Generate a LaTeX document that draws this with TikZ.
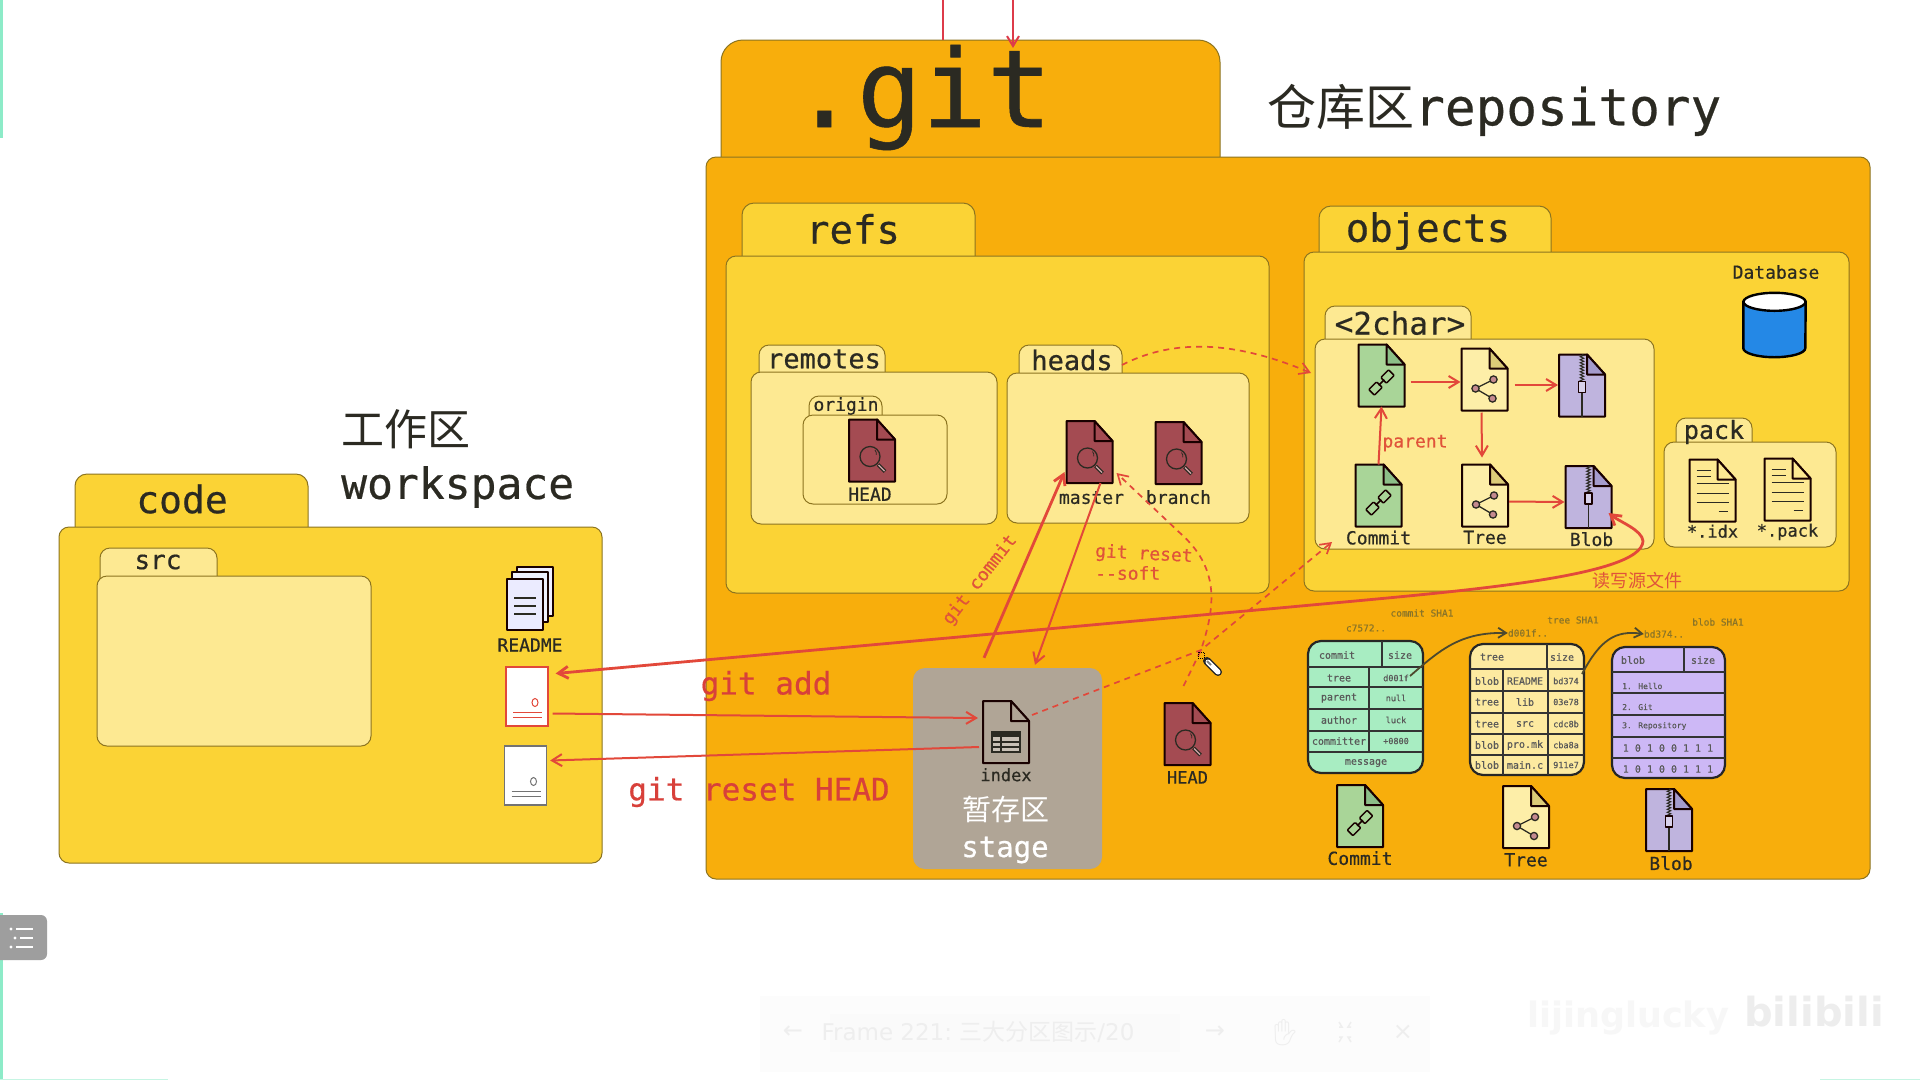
\documentclass[tikz,border=0pt]{standalone}
\usepackage{xcolor}
\usepackage{fontspec}
\setmainfont[RawFeature={embolden=0.5}]{DejaVu Sans Mono}
\newfontfamily\cjk{Noto Sans CJK SC}
\newfontfamily\uisans{DejaVu Sans}
\newfontfamily\emojifont{Noto Emoji}
\usetikzlibrary{arrows.meta, positioning, shapes.geometric, decorations.pathmorphing}

\definecolor{repoorange}{HTML}{F8AE0C}
\definecolor{folderyellow}{HTML}{FBD335}
\definecolor{folderlight}{HTML}{FDE992}
\definecolor{folderline}{HTML}{8C7420}
\definecolor{stagegray}{HTML}{B0A596}
\definecolor{arrowred}{HTML}{E2483A}
\definecolor{labelred}{HTML}{E0533A}
\definecolor{cmdred}{HTML}{D8403A}
\definecolor{topred}{HTML}{DD3B4A}
\definecolor{inkdark}{HTML}{2B2A22}
\definecolor{commitgreen}{HTML}{A9D598}
\definecolor{commitfold}{HTML}{8CBF88}
\definecolor{treecream}{HTML}{FDEEA8}
\definecolor{treefold}{HTML}{DCCB78}
\definecolor{blobpurple}{HTML}{BFB4DE}
\definecolor{blobfold}{HTML}{A59BCC}
\definecolor{headred}{HTML}{A44B52}
\definecolor{tablegreen}{HTML}{A8EDC2}
\definecolor{tablecream}{HTML}{FDEAA0}
\definecolor{tablepurple}{HTML}{CDB8F6}
\definecolor{shaink}{HTML}{8A7428}
\definecolor{mintedge}{HTML}{8DEBC8}
\definecolor{faintui}{HTML}{EEEEEE}
\definecolor{dbblue}{HTML}{2488E6}

\newcommand{\px}[1]{\fontsize{#1}{#1}\selectfont}

% node from its two corners, in pixels of the picture
\newcommand{\panel}[6]{%
    \node[#6, minimum width={#4-#2}, minimum height={#5-#3}] (#1) at ({(#2+#4)/2},{(#3+#5)/2}) {};
}
% name, x, y, body fill, fold fill, glyph
\newcommand{\fileicon}[6]{%
    \node[filenode] (#1) at (#2,#3) {};
    \draw[iconline, fill=#4] (#1.north west) -- ([shift={(28,0)}]#1.north west) -- ([shift={(0,20)}]#1.north east) -- (#1.south east) -- (#1.south west) -- cycle;
    \draw[iconline, fill=#5] ([shift={(28,0)}]#1.north west) -- ([shift={(28,20)}]#1.north west) -- ([shift={(0,20)}]#1.north east) -- cycle;
    \pic at (#1.center) {#6};
}
% name, x, y, line colour
\newcommand{\sourcepage}[4]{%
    \node[sourcenode, draw=#4] (#1) at (#2,#3) {};
    \draw[#4, line width=1pt] ([shift={(8,6)}]#1.center) circle (3 and 4);
    \draw[#4, line width=1.4pt] ([shift={(-14,16)}]#1.center) -- ([shift={(15,16)}]#1.center);
    \draw[#4, line width=1.4pt] ([shift={(-14,21)}]#1.center) -- ([shift={(15,21)}]#1.center);
}

\tikzset{
    commitmark/.pic={
        \begin{scope}[shift={(0,7)}, rotate=45]
            \draw[iconline, rounded corners=1pt, line width=1.5pt] (-14,-4) rectangle (-3,4);
            \draw[iconline, rounded corners=1pt, line width=1.5pt] (3,-4) rectangle (14,4);
            \draw[iconline, line width=1.5pt] (-4,0) -- (4,0);
        \end{scope}
    },
    treemark/.pic={
        \draw[inkdark, line width=1.3pt] (9,0) -- (-9,9) -- (8,19);
        \draw[inkdark, line width=1.3pt, fill=headred!65] (9,0) circle (3.6);
        \draw[inkdark, line width=1.3pt, fill=headred!65] (-9,9) circle (3.6);
        \draw[inkdark, line width=1.3pt, fill=headred!65] (8,19) circle (3.6);
    },
    zipmark/.pic={
        \draw[inkdark, line width=1pt, decorate, decoration={zigzag, segment length=3pt, amplitude=1.8pt}] (0,-31) -- (0,-3);
        \draw[inkdark, line width=1.2pt] (0,7) -- (0,31);
        \draw[iconline, line width=1.3pt, fill=white!40!blobpurple] (-3.5,-4) rectangle (3.5,7);
    },
    lensmark/.pic={
        \draw[inkdark, line width=1.3pt] (-2,6) circle (10);
        \draw[inkdark, line width=.8pt] (3,-0.5) arc (-40:10:6);
        \draw[inkdark, line width=3.6pt] (6,14) -- (13,21);
        \draw[headred!50, line width=1.4pt] (6.5,14.5) -- (12.5,20.5);
    },
    tablemark/.pic={
        \draw[inkdark, line width=1.6pt, fill=stagegray!70!white] (-14,0) rectangle (14,20);
        \fill[inkdark] (-14,0) rectangle (14,5);
        \draw[inkdark, line width=1.4pt] (-5,0) -- (-5,20);
        \draw[inkdark, line width=1.4pt] (-14,10) -- (14,10);
        \draw[inkdark, line width=1.4pt] (-14,15) -- (14,15);
    },
    linesmark/.pic={
        \draw[inkdark, line width=1.6pt] (-16,-20) -- (-2,-20);
        \draw[inkdark, line width=1.6pt] (-16,-14) -- (-2,-14);
        \draw[inkdark, line width=1.6pt] (-16,-7) -- (16,-7);
        \draw[inkdark, line width=1.6pt] (-16,3) -- (16,3);
        \draw[inkdark, line width=1.6pt] (-16,12) -- (16,12);
        \draw[inkdark, line width=1.6pt] (6,21) -- (15,21);
    }
}

\begin{document}
\begin{tikzpicture}[
    x=1pt, y=-1pt,
    font=\px{18},
    folderbox/.style={draw=folderline, line width=1pt, rounded corners=10pt, inner sep=0pt, outer sep=0pt},
    bigtab/.style={folderbox, rounded corners=22pt},
    midtab/.style={folderbox, rounded corners=12pt},
    tabtext/.style={text=inkdark, inner sep=0pt},
    filenode/.style={rectangle, minimum width=46pt, minimum height=62pt, inner sep=0pt, outer sep=0pt},
    sourcenode/.style={rectangle, fill=white, line width=1.2pt, minimum width=42pt, minimum height=59pt, inner sep=0pt},
    iconline/.style={draw=black!90!red, line width=2pt, line join=round},
    filelabel/.style={text=inkdark, inner sep=0pt, font=\px{18}},
    redlabel/.style={text=labelred, inner sep=0pt, font=\px{18}},
    cmdlabel/.style={text=cmdred, inner sep=0pt, font=\px{31}},
    tablebox/.style={draw=black!85, line width=2.2pt, rounded corners=13pt, inner sep=0pt},
    tablerule/.style={black!80, line width=1.6pt},
    tablecell/.style={inner sep=0pt, font=\px{10}, text=black!65},
    shatext/.style={text=shaink, inner sep=0pt, font=\px{9.5}},
    arrow/.style={-{Straight Barb[length=10pt, width=12pt]}, draw=arrowred, line width=2pt},
    bigarrow/.style={arrow, line width=2.8pt},
    dasharrow/.style={arrow, dash pattern=on 6pt off 5pt, line width=1.7pt},
    grayarrow/.style={-{Straight Barb[length=8pt, width=10pt]}, draw=black!60!olive, line width=1.8pt},
    uitext/.style={text=faintui, inner sep=0pt}
]
    \useasboundingbox (0,0) rectangle (1920,1080);
    \fill[white] (0,0) rectangle (1920,1080);

    % page edges and the player controls
    \fill[mintedge] (0,0) rectangle (2.5,138);
    \fill[mintedge] (0,913) rectangle (2.5,1080);
    \fill[mintedge!50] (0,1078.5) rectangle (168,1080);
    \fill[mintedge!50] (1820,1078.5) rectangle (1920,1080);
    \panel{listbutton}{-12}{915}{47}{960}{fill=black!38, rounded corners=6pt, inner sep=0pt}
    \foreach \y/\a in {929/11, 938/15, 947/11} {
        \fill[white] (\a,\y) circle (1.6);
        \draw[white, line width=2pt] (\a+5,\y) -- (33,\y);
    }
    \panel{toolbar}{760}{996}{1430}{1072}{fill=black!1, inner sep=0pt}
    \panel{framebox}{830}{1014}{1180}{1052}{fill=black!2, inner sep=0pt}
    \node[uitext, font=\uisans\px{24}] (prevbtn) at (793,1032) {←};
    \node[uitext, font=\uisans\px{23}] (frametext) at (978,1032) {\uisans Frame 221:\ {\cjk 三大分区图示}/20};
    \node[uitext, font=\uisans\px{24}] (nextbtn) at (1215,1032) {→};
    \node[uitext, font=\emojifont\px{26}] (handbtn) at (1285,1033) {✋};
    \draw[faintui, line width=1.5pt] (1339,1022) -- (1342,1027) -- (1339,1027) (1351,1022) -- (1348,1027) -- (1351,1027) (1339,1042) -- (1342,1037) -- (1339,1037) (1351,1042) -- (1348,1037) -- (1351,1037);
    \node[uitext, font=\uisans\px{24}] (closebtn) at (1403,1032) {×};
    \node[uitext, font=\uisans\bfseries\px{35}, text=black!3] (uploader) at (1628,1018) {lijinglucky};
    \node[uitext, font=\uisans\bfseries\px{40}, text=black!7, anchor=west] (sitemark) at (1744,1012) {bilibili};

    % workspace
    \panel{codetab}{75}{474}{308}{545}{midtab, fill=folderyellow}
    \panel{codebox}{59}{527}{602}{863}{folderbox, fill=folderyellow}
    \node[tabtext, font=\px{38}] (codelabel) at (182,499) {code};
    \panel{srctab}{100}{548}{217}{590}{folderbox, fill=folderlight}
    \panel{srcbox}{97}{576}{371}{746}{folderbox, fill=folderlight}
    \node[tabtext, font=\px{26}] (srclabel) at (158,562) {src};
    \node[tabtext, font=\cjk\px{43}, anchor=west] (worklabel) at (341,429) {工作区};
    \node[tabtext, font=\px{43}, anchor=west] (workspace) at (341,487) {workspace};

    \node[rectangle, minimum width=46pt, minimum height=62pt, inner sep=0pt] (readme) at (530,598) {};
    \draw[iconline, fill=blue!6] (517,567) rectangle (553,616);
    \draw[iconline, fill=blue!6] (512,572) rectangle (548,622);
    \draw[iconline, fill=blue!8] (507,579) rectangle (543,630);
    \foreach \y in {598, 606, 614} {
        \draw[inkdark, line width=1.8pt] (514,\y) -- (536,\y);
    }
    \node[filelabel, below=9pt of readme] (readmelabel) {README};
    \sourcepage{redfile}{527}{696.5}{arrowred}
    \sourcepage{whitefile}{525.5}{775.5}{black!55}

    % repository
    \panel{repotab}{721}{40}{1220}{180}{bigtab, fill=repoorange}
    \panel{repobox}{706}{157}{1870}{879}{folderbox, fill=repoorange}
    \node[text=inkdark, inner sep=0pt, anchor=base, font=\px{108}] (gitlabel) at (922,127) {.git};
    \node[tabtext, anchor=west] (repolabel) at (1267,110) {{\cjk\px{49}仓库区}{\px{51}repository}};

    \panel{refstab}{742}{203}{975}{275}{midtab, fill=folderyellow}
    \panel{refsbox}{726}{256}{1269}{593}{folderbox, fill=folderyellow}
    \node[tabtext, font=\px{39}] (refslabel) at (853,229) {refs};
    \panel{objtab}{1319}{206}{1551}{270}{midtab, fill=folderyellow}
    \panel{objbox}{1304}{252}{1849}{591}{folderbox, fill=folderyellow}
    \node[tabtext, font=\px{39}] (objlabel) at (1428,231) {objects};

    \panel{remotestab}{759}{345}{885}{385}{folderbox, fill=folderlight}
    \panel{remotesbox}{751}{372}{997}{524}{folderbox, fill=folderlight}
    \node[tabtext, font=\px{27}] (remoteslabel) at (824,359) {remotes};
    \panel{headstab}{1019}{345}{1122}{385}{folderbox, fill=folderlight}
    \panel{headsbox}{1007}{373}{1249}{523}{folderbox, fill=folderlight}
    \node[tabtext, font=\px{27}] (headslabel) at (1072,360) {heads};
    \panel{origintab}{809}{396}{882}{428}{folderbox, fill=folderlight}
    \panel{originbox}{803}{415}{947}{504}{folderbox, fill=folderlight}
    \node[tabtext] (originlabel) at (846,406) {origin};

    \fileicon{remotehead}{872}{450.5}{headred}{headred}{lensmark}
    \node[filelabel, below=6pt of remotehead, xshift=-2pt] (remoteheadlabel) {HEAD};
    \fileicon{master}{1089.5}{452}{headred}{headred}{lensmark}
    \node[filelabel, below=8pt of master, xshift=2pt] (masterlabel) {master};
    \fileicon{branch}{1178.5}{453}{headred}{headred}{lensmark}
    \node[filelabel, below=6pt of branch] (branchlabel) {branch};

    \panel{chartab}{1325}{306}{1471}{355}{folderbox, fill=folderlight}
    \panel{charbox}{1315}{339}{1654}{549}{folderbox, fill=folderlight}
    \node[tabtext, font=\px{31}] (charlabel) at (1400,323) {<2char>};
    \panel{packtab}{1676}{418}{1752}{455}{folderbox, fill=folderlight}
    \panel{packbox}{1664}{442}{1836}{547}{folderbox, fill=folderlight}
    \node[tabtext, font=\px{25}] (packlabel) at (1714,432) {pack};

    \fileicon{commitA}{1381.5}{375.5}{commitgreen}{commitfold}{commitmark}
    \fileicon{treeA}{1484.5}{379.5}{treecream}{treefold}{treemark}
    \fileicon{blobA}{1582}{385.5}{blobpurple}{blobfold}{zipmark}
    \fileicon{commitB}{1378.5}{495.5}{commitgreen}{commitfold}{commitmark}
    \fileicon{treeB}{1485}{495.5}{treecream}{treefold}{treemark}
    \fileicon{blobB}{1588.5}{497}{blobpurple}{blobfold}{zipmark}
    \node[filelabel, below=4pt of commitB] (commitBlabel) {Commit};
    \node[filelabel, below=4pt of treeB] (treeBlabel) {Tree};
    \node[filelabel, below=4pt of blobB, xshift=3pt] (blobBlabel) {Blob};

    \fileicon{idxfile}{1712.5}{490.5}{folderlight}{folderlight}{linesmark}
    \fileicon{packfile}{1787.5}{489.5}{folderlight}{folderlight}{linesmark}
    \node[filelabel, below=3pt of idxfile, font=\px{17}] (idxlabel) {*.idx};
    \node[filelabel, below=3pt of packfile, font=\px{17}] (packfilelabel) {*.pack};

    \node[filelabel] (dblabel) at (1776,272) {Database};
    \node[rectangle, minimum width=62pt, minimum height=65pt, inner sep=0pt] (database) at (1774.5,324.5) {};
    \draw[black, line width=2.4pt, fill=dbblue] ([shift={(0,10)}]database.north west) -- ([shift={(0,-9)}]database.south west) arc (180:0:31 and 9) -- ([shift={(0,10)}]database.north east) -- cycle;
    \draw[black, line width=2.4pt, fill=white] ([shift={(0,10)}]database.north) ellipse (31 and 9);

    % stage
    \panel{stagebox}{913}{668}{1102}{869}{fill=stagegray, rounded corners=12pt, inner sep=0pt}
    \fileicon{indexfile}{1006}{732}{stagegray}{stagegray}{tablemark}
    \node[filelabel, below=5pt of indexfile, font=\px{17}] (indexlabel) {index};
    \node[inner sep=0pt, text=white, font=\cjk\px{29}] (stagecn) at (1006,809) {暂存区};
    \node[inner sep=0pt, text=white, font=\px{29}] (stageen) at (1005,850) {stage};
    \fileicon{headB}{1187.5}{734}{headred}{headred}{lensmark}
    \node[filelabel, below=6pt of headB, font=\px{17}] (headBlabel) {HEAD};

    % commit table
    \panel{commitbox}{1308}{641}{1423}{773}{tablebox, fill=tablegreen}
    \foreach \y in {667, 687, 709, 731, 752} {
        \draw[tablerule] (1308,\y) -- (1423,\y);
    }
    \draw[tablerule] (1382,641) -- (1382,667);
    \draw[tablerule] (1369,667) -- (1369,752);
    \node[tablecell] (commithead) at (1337,655) {commit};
    \node[tablecell] (commitsize) at (1400,655) {size};
    \foreach \rowy/\keytext/\valtext [count=\n] in {678/tree/d001f, 698/parent/null, 720/author/luck, 741/committer/+0800} {
        \node[tablecell] (commitkey\n) at (1339,\rowy) {\keytext};
        \node[tablecell, font=\px{8.5}] (commitval\n) at (1396,\rowy) {\valtext};
    }
    \node[tablecell] (commitmsg) at (1366,763) {message};
    \node[shatext] (commitshalabel) at (1422,613) {commit SHA1};
    \node[shatext] (commitsha) at (1366,628) {c7572..};

    % tree table
    \panel{treebox}{1470}{644}{1584}{775}{tablebox, fill=tablecream}
    \foreach \y in {669, 691, 713, 734, 755} {
        \draw[tablerule] (1470,\y) -- (1584,\y);
    }
    \draw[tablerule] (1547,644) -- (1547,669);
    \draw[tablerule] (1503,669) -- (1503,775);
    \draw[tablerule] (1548,669) -- (1548,775);
    \node[tablecell] (treehead) at (1492,657) {tree};
    \node[tablecell] (treesize) at (1562,657) {size};
    \foreach \rowy/\typetext/\nametext/\hashtext [count=\n] in {681/blob/README/bd374, 702/tree/lib/03e78, 724/tree/src/cdc8b, 745/blob/pro.mk/cba8a, 765/blob/main.c/911e7} {
        \node[tablecell] (treetype\n) at (1487,\rowy) {\typetext};
        \node[tablecell] (treename\n) at (1525,\rowy) {\nametext};
        \node[tablecell, font=\px{8.5}] (treeval\n) at (1566,\rowy) {\hashtext};
    }
    \node[shatext] (treeshalabel) at (1573,620) {tree SHA1};
    \node[shatext] (treesha) at (1528,633) {d001f..};

    % blob table
    \panel{blobbox}{1612}{647}{1725}{778}{tablebox, fill=tablepurple}
    \foreach \y in {672, 693, 715, 737, 758} {
        \draw[tablerule] (1612,\y) -- (1725,\y);
    }
    \draw[tablerule] (1684,647) -- (1684,672);
    \node[tablecell] (blobhead) at (1633,660) {blob};
    \node[tablecell] (blobsize) at (1703,660) {size};
    \foreach \rowy/\linetext [count=\n] in {686/1. Hello, 707/2. Git, 726/3. Repository} {
        \node[tablecell, anchor=west, font=\px{8}] (blobline\n) at (1622,\rowy) {\linetext};
    }
    \foreach \rowy [count=\n] in {748, 769} {
        \node[tablecell] (blobbits\n) at (1668,\rowy) {1 0 1 0 0 1 1 1};
    }
    \node[shatext] (blobshalabel) at (1718,622) {blob SHA1};
    \node[shatext] (blobsha) at (1664,634) {bd374..};

    \fileicon{commitC}{1360}{816}{commitgreen}{commitfold}{commitmark}
    \fileicon{treeC}{1526}{817}{treecream}{treefold}{treemark}
    \fileicon{blobC}{1669}{820}{blobpurple}{blobfold}{zipmark}
    \node[filelabel, below=4pt of commitC] (commitClabel) {Commit};
    \node[filelabel, below=5pt of treeC] (treeClabel) {Tree};
    \node[filelabel, below=5pt of blobC, xshift=2pt] (blobClabel) {Blob};

    % connectors
    \draw[grayarrow] ([shift={(14,-2)}]commitval1.center) .. controls (1440,650) and (1460,632) .. (treesha.west);
    \draw[grayarrow] ([shift={(16,-7)}]treeval1.center) .. controls (1600,640) and (1615,630) .. (blobsha.west);

    \draw[arrow] ([shift={(6,6.5)}]commitA.east) -- ([shift={(-1,2.5)}]treeA.west);
    \draw[arrow] ([shift={(7,5.5)}]treeA.east) -- ([shift={(-1,-0.5)}]blobA.west);
    \draw[arrow] ([shift={(-3,2)}]treeA.south) -- ([shift={(-3,-7)}]treeB.north);
    \draw[arrow] (commitB.north) -- (commitA.south);
    \draw[arrow] ([shift={(1,6)}]treeB.east) -- ([shift={(-1,5)}]blobB.west);
    \node[redlabel] (parentlabel) at (1415,443) {parent};

    \coordinate (bendA) at (1290,607);
    \coordinate (bendB) at (1643,541);
    \coordinate (bendC) at (1201,650);
    \draw[bigarrow, {Straight Barb[length=10pt, width=12pt]}-{Straight Barb[length=10pt, width=12pt]}] ([shift={(7,-23)}]redfile.east) -- (bendA) .. controls (1450,592) and (1642,578) .. (bendB) .. controls (1642,530) and (1620,522) .. ([shift={(-3,16)}]blobB.east);
    \node[redlabel, font=\cjk\px{18}] (rwlabel) at (1637,581) {读写源文件};

    \draw[arrow] ([shift={(4,17)}]redfile.east) -- ([shift={(-5,-14)}]indexfile.west);
    \draw[arrow] ([shift={(-4,15)}]indexfile.west) -- ([shift={(3,-15)}]whitefile.east);
    \node[cmdlabel] (addlabel) at (766,686) {git add};
    \node[cmdlabel] (resetlabel) at (759,792) {git reset HEAD};

    \draw[bigarrow] ([shift={(-23.5,-10)}]stagebox.north) -- ([shift={(-2,-11)}]master.south west);
    \draw[arrow] ([shift={(11,0)}]master.south) -- ([shift={(27.5,-3)}]stagebox.north);
    \node[redlabel, rotate=52] (commitcmd) at (980,580) {git commit};
    \node[redlabel, rotate=-3, anchor=west] (softcmd) at (1095,552) {git reset};
    \node[redlabel, anchor=west] (softopt) at (1095,573) {{-}{-}soft};

    \draw[dasharrow] (headstab.east) .. controls (1180,335) and (1245,345) .. ([shift={(-4,34)}]charbox.north west);
    \draw[dasharrow] ([shift={(-4,-17)}]headB.north) -- (bendC) .. controls (1214,610) and (1222,570) .. (1180,533) -- ([shift={(4,-10)}]master.south east);
    \draw[dasharrow] ([shift={(3,-17)}]indexfile.east) -- (bendC) -- ([shift={(17,-7)}]charbox.south west);

    % pen pointer
    \draw[densely dotted, black, line width=1pt] (1198,652) rectangle (1204,658);
    \draw[black!85, line width=8pt, line cap=round] (1207,661) -- (1218,672);
    \draw[white, line width=5pt, line cap=round] (1208,662) -- (1218,672);
    \draw[black!50, line width=2pt] (1207,661) -- (1211,665);

    % the two lines that enter from above
    \coordinate (topA) at (943,0);
    \coordinate (topB) at (1013,0);
    \draw[draw=topred, line width=1.6pt] (topA) -- ([shift={(-27.5,0)}]repotab.north);
    \draw[arrow, draw=topred] (topB) -- ([shift={(42.5,8)}]repotab.north);
\end{tikzpicture}
\end{document}
